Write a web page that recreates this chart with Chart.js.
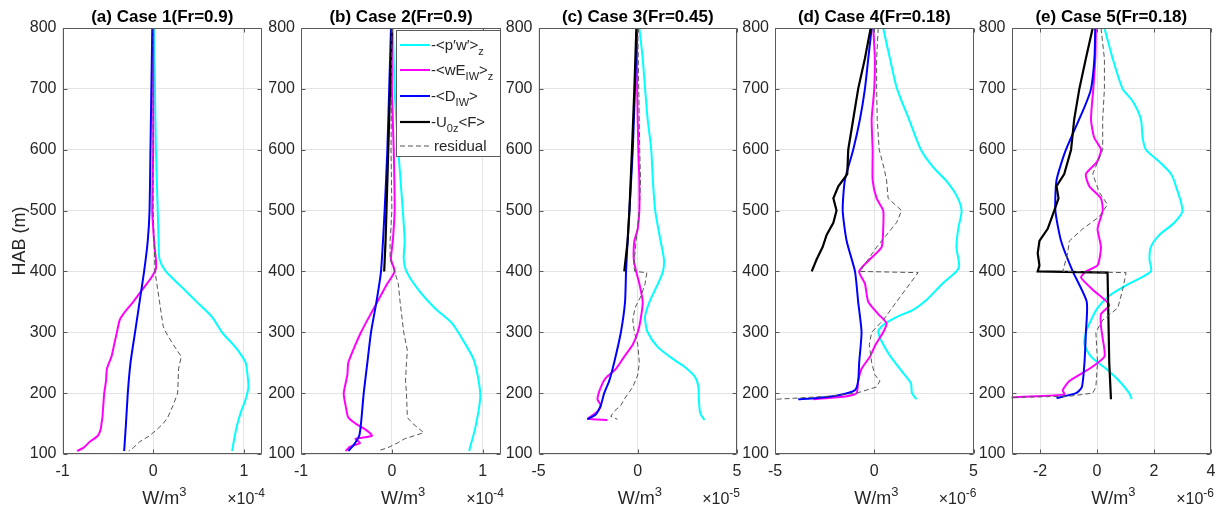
<!DOCTYPE html>
<html lang="en">
<head>
    <meta charset="UTF-8">
    <title>IW energy budget profiles</title>
    <script src="https://cdn.jsdelivr.net/npm/chart.js"></script>
    <style>
        body { margin: 0; background: #fff; }
        #wrap { position: relative; width: 1225px; height: 517px; }
        #wrap canvas { position: absolute; left: 0; top: 0; }
    </style>
</head>
<body>
<div id="wrap">
    <canvas id="c0" width="1225" height="517"></canvas>
    <canvas id="c1" width="1225" height="517"></canvas>
    <canvas id="c2" width="1225" height="517"></canvas>
    <canvas id="c3" width="1225" height="517"></canvas>
    <canvas id="c4" width="1225" height="517"></canvas>
</div>
<script>
// ---- data (heights in m, values in W/m^3 scaled by the panel exponent) ----
const titles = ['(a) Case 1(Fr=0.9)', '(b) Case 2(Fr=0.9)', '(c) Case 3(Fr=0.45)', '(d) Case 4(Fr=0.18)', '(e) Case 5(Fr=0.18)'];
const exponents = ['-4', '-4', '-5', '-6', '-6'];
const yTicks = [100, 200, 300, 400, 500, 600, 700, 800];
const xTicksA = [-1, 0, 1];
const xTicksB = [-1, 0, 1];
const xTicksC = [-5, 0, 5];
const xTicksD = [-5, 0, 5];
const xTicksE = [-2, 0, 2, 4];

// Case 1
const A_pw_z = [800,700,600,500,450,420,400,375,350,325,300,280,265,250,230,210,190,170,150,130,105];
const A_pw   = [0.01,0.02,0.03,0.05,0.06,0.07,0.14,0.31,0.48,0.65,0.76,0.88,0.96,1.02,1.04,1.05,1.02,0.97,0.93,0.9,0.87];
const A_wE_z = [800,700,600,500,450,420,405,390,370,350,330,320,300,280,260,240,220,200,180,160,150,140,130,120,110,105];
const A_wE   = [0,0,0,-0.01,0.01,0.03,0.03,-0.02,-0.12,-0.22,-0.33,-0.37,-0.4,-0.43,-0.46,-0.51,-0.52,-0.54,-0.55,-0.56,-0.57,-0.58,-0.61,-0.7,-0.77,-0.84];
const A_D_z  = [800,700,600,500,450,400,350,300,250,200,150,105];
const A_D    = [-0.01,-0.02,-0.03,-0.04,-0.06,-0.1,-0.15,-0.2,-0.25,-0.28,-0.3,-0.32];
const A_res_z = [800,600,500,450,400,350,310,300,280,260,240,200,180,160,150,140,130,120,110,105];
const A_res   = [0,0,0,0.01,0.02,0.07,0.11,0.14,0.22,0.31,0.28,0.27,0.22,0.16,0.11,0.04,-0.04,-0.15,-0.22,-0.27];

// Case 2
const B_pw_z = [800,700,600,500,450,420,400,370,340,315,285,255,215,190,145,105];
const B_pw   = [0.01,0.03,0.07,0.12,0.14,0.13,0.16,0.29,0.47,0.66,0.79,0.9,0.96,0.97,0.92,0.85];
const B_wE_z = [800,700,600,500,450,420,400,380,350,320,300,280,250,230,200,180,160,150,140,130,125,118,112,105];
const B_wE   = [0,0,0.02,0.03,0.01,-0.01,0.03,-0.05,-0.16,-0.27,-0.34,-0.4,-0.48,-0.49,-0.53,-0.51,-0.48,-0.4,-0.29,-0.22,-0.4,-0.35,-0.46,-0.51];
const B_D_z  = [800,700,600,500,400,350,300,250,200,150,130,115,105];
const B_D    = [-0.01,-0.03,-0.05,-0.08,-0.12,-0.17,-0.23,-0.27,-0.31,-0.34,-0.36,-0.42,-0.48];
const B_U_z  = [800,700,600,500,450,400];
const B_U    = [0,-0.02,-0.04,-0.06,-0.07,-0.085];
const B_res_z = [800,600,500,450,420,400,380,350,300,270,250,220,200,160,150,135,125,118,110,105];
const B_res   = [0,-0.01,0,-0.02,-0.02,0.03,0.07,0.09,0.13,0.17,0.16,0.15,0.16,0.17,0.23,0.35,0.14,0.06,-0.05,-0.16];

// Case 3
const C_pw_z = [800,750,700,650,600,550,500,450,420,400,380,350,330,320,300,276,254,243,227,211,189,167,156];
const C_pw   = [0.08,0.25,0.37,0.5,0.68,0.76,0.88,1.15,1.32,1.27,1.02,0.59,0.39,0.37,0.5,1.0,1.86,2.37,2.88,3.05,3.08,3.15,3.36];
const C_wE_z = [800,700,600,550,500,470,450,420,400,380,350,320,300,280,260,240,225,210,190,180,170,163,158,156];
const C_wE   = [-0.03,-0.03,0.03,0.08,0.08,0,-0.17,-0.2,-0.08,0.08,0.25,0.14,0,-0.25,-0.68,-1.1,-1.61,-1.86,-2.03,-1.86,-2.03,-2.3,-2.5,-1.53];
const C_D_z  = [800,700,600,500,450,400,350,300,250,220,200,180,165,157];
const C_D    = [-0.03,-0.14,-0.25,-0.42,-0.51,-0.59,-0.64,-0.85,-1.19,-1.44,-1.69,-1.86,-2.12,-2.54];
const C_U_z  = [800,700,600,500,450,400];
const C_U    = [-0.07,-0.17,-0.29,-0.42,-0.51,-0.68];
const C_res_z = [800,700,600,550,500,450,410,400,398,380,360,340,320,300,280,250,230,210,190,180,170,162,157];
const C_res   = [0,0.05,0.1,0.14,0.08,-0.08,-0.2,-0.15,0.46,0.37,0.17,-0.14,-0.25,-0.17,0,0.08,0,-0.25,-0.68,-0.85,-1.19,-1.36,-1.02];

// Case 4
const D_pw_z = [800,750,700,650,600,570,550,525,500,470,440,410,400,381,353,337,325,312,300,266,233,216,200,190];
const D_pw   = [0.45,0.79,1.15,1.75,2.35,3.0,3.6,4.14,4.4,4.23,4.14,4.28,4.14,3.47,2.63,1.96,1.12,0.45,0.2,0.7,1.46,1.85,1.9,2.13];
const D_wE_z = [800,750,700,650,600,550,520,500,470,440,420,400,380,350,330,315,300,280,260,240,220,200,195,190];
const D_wE   = [-0.05,0.03,0,-0.13,-0.08,-0.08,0.12,0.45,0.45,0.37,-0.22,-0.76,-0.47,-0.3,0.2,0.62,0.45,0.07,-0.22,-0.64,-0.81,-0.89,-1.39,-3.07];
const D_D_z  = [800,750,700,650,600,550,500,450,400,350,300,250,220,205,197,192,190];
const D_D    = [-0.13,-0.3,-0.47,-0.72,-1.06,-1.48,-1.59,-1.39,-0.97,-0.81,-0.64,-0.76,-0.81,-0.97,-1.73,-2.9,-3.83];
const D_U_z  = [800,750,700,650,600,560,540,520,500,480,460,440,420,400];
const D_U    = [-0.18,-0.47,-0.81,-1.06,-1.31,-1.36,-1.81,-2.06,-1.9,-2.06,-2.4,-2.6,-2.9,-3.15];
const D_res_z = [800,750,700,650,600,570,550,520,500,480,460,440,420,400,398,380,350,320,300,280,250,230,220,210,200,195,190];
const D_res   = [0.2,0.12,0.12,0.15,0.25,0.49,0.62,0.7,1.38,1.12,0.62,0.12,-0.3,-0.72,2.21,1.8,1.12,0.45,-0.13,-0.25,-0.13,0.03,0.29,0.1,-0.89,-2.23,-4.92];

// Case 5
const E_pw_z = [800,750,700,680,650,620,600,580,560,540,500,480,460,440,420,400,380,360,340,320,300,280,260,240,220,200,190];
const E_pw   = [0.26,0.55,0.9,1.25,1.54,1.6,1.72,2.19,2.6,2.77,3.0,2.71,2.19,1.89,1.84,1.89,1.13,0.43,0.02,-0.21,-0.39,-0.44,-0.21,0.32,0.78,1.13,1.22];
const E_wE_z = [800,750,700,650,620,600,580,560,540,520,500,470,440,410,400,390,370,345,330,310,290,260,240,220,205,198,195,193];
const E_wE   = [-0.04,-0.06,-0.13,-0.21,-0.1,0.14,0,-0.39,-0.27,0.14,0.2,0.02,0.14,0.02,-0.39,-0.56,-0.15,0.43,0.14,0.14,0.2,0.26,-0.27,-0.97,-1.2,-1.15,-2.14,-3.02];
const E_D_z  = [800,750,700,670,600,550,500,450,400,350,300,250,210,200,192];
const E_D    = [-0.06,-0.09,-0.21,-0.44,-1.09,-1.42,-1.46,-1.26,-0.85,-0.36,-0.39,-0.44,-0.53,-0.74,-1.42];
const E_U_z  = [800,750,700,650,600,560,540,520,500,470,450,430,410,400,398,300,250,190];
const E_U    = [-0.15,-0.39,-0.62,-0.8,-0.91,-1.15,-1.42,-1.35,-1.5,-1.73,-2.02,-2.08,-2.02,-2.08,0.37,0.41,0.43,0.49];
const E_res_z = [800,750,700,650,600,560,530,510,490,470,450,430,400,398,370,340,320,300,250,210,200,195,193];
const E_res   = [0.14,0.26,0.26,0.2,0.2,-0.15,0.08,0.37,0.08,-0.5,-0.97,-1.03,-1.2,1.02,0.9,0.73,0.2,-0.04,0.02,-0.04,-0.15,-0.97,-2.96];

// ---- styling / layout ----
const FONT = '"Liberation Sans", Arial, sans-serif';
const TXT = '#262626';
const TOP = 28, BOT = 454;
const panels = [
    { l: 62.5,   r: 262,    xmin: -1, xmax: 1.2, xt: xTicksA },
    { l: 301,    r: 501,    xmin: -1, xmax: 1.2, xt: xTicksB },
    { l: 538.5,  r: 737,    xmin: -5, xmax: 5,   xt: xTicksC },
    { l: 775,    r: 973.5,  xmin: -5, xmax: 5,   xt: xTicksD },
    { l: 1011.5, r: 1211,   xmin: -3, xmax: 4,   xt: xTicksE }
];
const sty = {
    pw:  { color: '#00ffff', width: 2,   dash: [],     order: 5, tension: 0.25 },
    wE:  { color: '#ff00ff', width: 2,   dash: [],     order: 4, tension: 0.2 },
    D:   { color: '#0000ff', width: 2,   dash: [],     order: 3, tension: 0.2 },
    U:   { color: '#000000', width: 2.2, dash: [],     order: 2, tension: 0 },
    res: { color: '#555555', width: 1,   dash: [5, 3], order: 1, tension: 0 }
};
const series = [
    { pw: [A_pw_z, A_pw], wE: [A_wE_z, A_wE], D: [A_D_z, A_D], res: [A_res_z, A_res] },
    { pw: [B_pw_z, B_pw], wE: [B_wE_z, B_wE], D: [B_D_z, B_D], U: [B_U_z, B_U], res: [B_res_z, B_res] },
    { pw: [C_pw_z, C_pw], wE: [C_wE_z, C_wE], D: [C_D_z, C_D], U: [C_U_z, C_U], res: [C_res_z, C_res] },
    { pw: [D_pw_z, D_pw], wE: [D_wE_z, D_wE], D: [D_D_z, D_D], U: [D_U_z, D_U], res: [D_res_z, D_res] },
    { pw: [E_pw_z, E_pw], wE: [E_wE_z, E_wE], D: [E_D_z, E_D], U: [E_U_z, E_U], res: [E_res_z, E_res] }
];

// legend entries: [text, shift] shift 0 normal, -1 subscript, 1 superscript
const legendRows = [
    { key: 'pw',  y: 45,  parts: [['-<p\u2032w\u2032>', 0], ['z', -1]] },
    { key: 'wE',  y: 70,  parts: [['-<wE', 0], ['IW', -1], ['>', 0], ['z', -1]] },
    { key: 'D',   y: 96,  parts: [['-<D', 0], ['IW', -1], ['>', 0]] },
    { key: 'U',   y: 122, parts: [['-U', 0], ['0z', -1], ['<F>', 0]] },
    { key: 'res', y: 146, parts: [['residual', 0]] }
];

// draw text made of normal / sub / super pieces
function rich(ctx, parts, x, y, size, align) {
    const small = Math.round(size * 0.72);
    const fontOf = p => (p[1] ? small : size) + 'px ' + FONT;
    let total = 0;
    parts.forEach(p => { ctx.font = fontOf(p); total += ctx.measureText(p[0]).width; });
    let cx = align === 'right' ? x - total : align === 'center' ? x - total / 2 : x;
    ctx.textAlign = 'left';
    ctx.textBaseline = 'alphabetic';
    parts.forEach(p => {
        ctx.font = fontOf(p);
        const dy = p[1] === 1 ? -size * 0.45 : p[1] === -1 ? size * 0.3 : 0;
        ctx.fillText(p[0], cx, y + dy);
        cx += ctx.measureText(p[0]).width;
    });
}

function decorations(idx) {
    return {
        id: 'decor' + idx,
        afterDraw(chart) {
            const { ctx, chartArea: a, scales: { x, y } } = chart;
            const L = Math.round(a.left) + 0.5, R = Math.round(a.right) - 0.5;
            const T = Math.round(a.top) + 0.5, B = Math.round(a.bottom) - 0.5;
            ctx.save();
            // box and inner tick marks
            ctx.strokeStyle = '#5a5a5a';
            ctx.lineWidth = 1;
            ctx.setLineDash([]);
            ctx.beginPath();
            ctx.rect(L, T, R - L, B - T);
            x.ticks.forEach(t => {
                const px = Math.round(x.getPixelForValue(t.value)) + 0.5;
                ctx.moveTo(px, B); ctx.lineTo(px, B - 4);
                ctx.moveTo(px, T); ctx.lineTo(px, T + 4);
            });
            y.ticks.forEach(t => {
                const py = Math.round(y.getPixelForValue(t.value)) + 0.5;
                ctx.moveTo(L, py); ctx.lineTo(L + 4, py);
                ctx.moveTo(R, py); ctx.lineTo(R - 4, py);
            });
            ctx.stroke();

            const cx = (a.left + a.right) / 2;
            // title
            ctx.fillStyle = '#000';
            ctx.font = 'bold 17px ' + FONT;
            ctx.textAlign = 'center';
            ctx.textBaseline = 'alphabetic';
            ctx.fillText(titles[idx], cx, 22);

            // x label and exponent
            ctx.fillStyle = TXT;
            rich(ctx, [['W/m', 0], ['3', 1]], cx + 2, 504, 18, 'center');
            rich(ctx, [['\u00d710', 0], [exponents[idx], 1]], a.right + 3, 504, 16, 'right');

            // y label on first panel
            if (idx === 0) {
                ctx.save();
                ctx.translate(25, (a.top + a.bottom) / 2);
                ctx.rotate(-Math.PI / 2);
                ctx.font = '18px ' + FONT;
                ctx.textAlign = 'center';
                ctx.fillText('HAB (m)', 0, 0);
                ctx.restore();
            }

            // legend in panel b
            if (idx === 1) {
                ctx.fillStyle = '#fff';
                ctx.fillRect(396.5, 30.5, 104, 126);
                ctx.strokeStyle = '#5a5a5a';
                ctx.strokeRect(396.5, 30.5, 104, 126);
                legendRows.forEach(row => {
                    const s = sty[row.key];
                    ctx.strokeStyle = s.color;
                    ctx.lineWidth = s.width;
                    ctx.setLineDash(s.dash);
                    ctx.beginPath();
                    ctx.moveTo(400, row.y);
                    ctx.lineTo(430, row.y);
                    ctx.stroke();
                    ctx.setLineDash([]);
                    ctx.fillStyle = TXT;
                    rich(ctx, row.parts, row.key === 'res' ? 434 : 431, row.y + 5, 15, 'left');
                });
            }
            ctx.restore();
        }
    };
}

panels.forEach((p, i) => {
    const datasets = Object.keys(series[i]).map(key => {
        const [zs, vs] = series[i][key];
        const s = sty[key];
        return {
            label: key,
            data: zs.map((z, k) => ({ x: vs[k], y: z })),
            showLine: true,
            borderColor: s.color,
            backgroundColor: s.color,
            borderWidth: s.width,
            borderDash: s.dash,
            pointRadius: 0,
            tension: s.tension,
            order: s.order
        };
    });
    const ctx = document.getElementById('c' + i).getContext('2d');
    new Chart(ctx, {
        type: 'scatter',
        data: { datasets },
        options: {
            responsive: false,
            animation: false,
            devicePixelRatio: 1,
            events: [],
            layout: { padding: { left: p.l - 50, right: 1225 - p.r, top: TOP, bottom: 517 - BOT - 30 } },
            plugins: { legend: { display: false }, tooltip: { enabled: false } },
            scales: {
                x: {
                    type: 'linear',
                    min: p.xmin,
                    max: p.xmax,
                    afterBuildTicks: s => { s.ticks = p.xt.map(v => ({ value: v })); },
                    afterFit: s => { s.height = 30; },
                    grid: { color: '#e4e4e4', drawTicks: false },
                    border: { display: false },
                    ticks: { padding: 8, color: TXT, font: { family: FONT, size: 16 } }
                },
                y: {
                    type: 'linear',
                    min: 100,
                    max: 800,
                    afterBuildTicks: s => { s.ticks = yTicks.map(v => ({ value: v })); },
                    afterFit: s => { s.width = 50; },
                    grid: { color: '#e4e4e4', drawTicks: false },
                    border: { display: false },
                    ticks: { padding: 6, color: TXT, font: { family: FONT, size: 16 } }
                }
            }
        },
        plugins: [decorations(i)]
    });
});
</script>
</body>
</html>
